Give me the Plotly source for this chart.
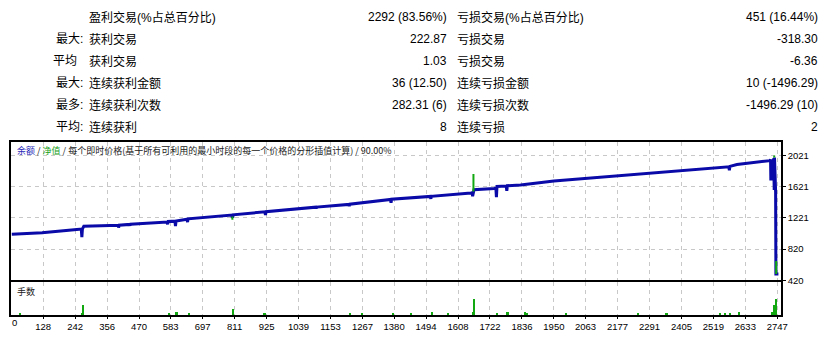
import plotly.graph_objects as go

# ---------------- data ----------------
row_prefix = ["", "最大:", "平均", "最大:", "最多:", "平均:"]
left_labels = ["盈利交易(%占总百分比)", "获利交易", "获利交易", "连续获利金额", "连续获利次数", "连续获利"]
left_values = ["2292 (83.56%)", "222.87", "1.03", "36 (12.50)", "282.31 (6)", "8"]
right_labels = ["亏损交易(%占总百分比)", "亏损交易", "亏损交易", "连续亏损金额", "连续亏损次数", "连续亏损"]
right_values = ["451 (16.44%)", "-318.30", "-6.36", "10 (-1496.29)", "-1496.29 (10)", "2"]

balance_x = [16, 124, 248, 264, 266, 268, 273, 396, 397, 399, 436, 438, 440, 570, 572, 574,
             598, 600, 602, 641, 643, 645, 801, 803, 805, 919, 921, 923, 1100, 1102, 1104,
             1218, 1220, 1222, 1367, 1369, 1371, 1476, 1509, 1511, 1513, 1654, 1658, 1660,
             1662, 1665, 1737, 1743, 1745, 1747, 1780, 1782, 1784, 1831, 1950, 2187, 2425,
             2574, 2576, 2578, 2603, 2721, 2723, 2724, 2726, 2728, 2730, 2732, 2734, 2736,
             2737, 2739, 2741, 2742, 2751]
balance_y = [1011, 1031, 1073, 1078, 973, 1080, 1115, 1127, 1098, 1127, 1138, 1125, 1140, 1168, 1140, 1177,
             1180, 1118, 1182, 1205, 1168, 1210, 1258, 1223, 1262, 1300, 1260, 1302, 1360, 1345, 1361,
             1395, 1376, 1398, 1460, 1418, 1462, 1492, 1498, 1468, 1500, 1542, 1545, 1501,
             1560, 1584, 1600, 1605, 1489, 1626, 1632, 1572, 1636, 1646, 1697, 1763, 1834,
             1880, 1834, 1885, 1909, 1959, 1975, 1704, 1975, 1704, 1975, 1704, 1990, 1580,
             2000, 1580, 1560, 500, 500]

equity_x = [803, 803, None, 1663, 1663, None, 2736, 2736, None, 2743, 2743]
equity_y = [1240, 1198, None, 1563, 1788, None, 2000, 2025, None, 666, 500]

lots_x = [46, 266, 269, 272, 577, 602, 605, 648, 807, 917, 921, 1223, 1267, 1375, 1440,
          1517, 1571, 1660, 1664, 1748, 1782, 1786, 1847, 1853, 1993, 2252, 2351, 2355,
          2541, 2559, 2579, 2612, 2730, 2734, 2741, 2744]
lots_y = [0.01, 0.01, 0.05, 0.01, 0.01, 0.015, 0.015, 0.01, 0.03, 0.01, 0.01, 0.01, 0.01, 0.01, 0.01,
          0.015, 0.01, 0.015, 0.08, 0.01, 0.015, 0.015, 0.015, 0.01, 0.01, 0.01, 0.01, 0.01,
          0.01, 0.01, 0.01, 0.015, 0.015, 0.05, 0.08, 0.03]

x_tick_vals = [128, 242, 356, 470, 583, 697, 811, 925, 1039, 1153, 1267, 1380, 1494, 1608,
               1722, 1836, 1950, 2063, 2177, 2291, 2405, 2519, 2633, 2747]
x_tick_text = [str(v) for v in x_tick_vals]
first_tick_text = "0"
y_tick_vals = [420, 820, 1221, 1621, 2021]
y_tick_text = ["420", "820", "1221", "1621", "2021"]

chart_title = ('<span style="color:#2828B8">余额</span> / '
               '<span style="color:#18A018">净值</span> / '
               '每个即时价格(基于所有可利用的最小时段的每一个价格的分形插值计算) / 90.00%')
lots_title = "手数"

# ---------------- layout geometry ----------------
W, H = 837, 341
L, R, T, B = 9, 56, 142, 20
PW, PH = W - L - R, H - T - B

def fx(px):
    return (px - L) / PW

def fy(py):
    return (H - B - py) / PH

X_RANGE = [13.2, 2760.2]
TABLE_FONT = dict(family="Liberation Sans, Noto Sans CJK SC", size=12, color="#000000")
TICK_FONT = dict(family="Liberation Sans, DejaVu Sans", size=9.5, color="#000000")
SMALL_FONT = dict(family="Noto Sans CJK SC, Liberation Sans", size=9, color="#202020")
GRID = dict(showgrid=True, gridcolor="#C8C8C8", gridwidth=1, griddash="4px,4px")

fig = go.Figure()
fig.add_trace(go.Scatter(x=balance_x, y=balance_y, mode="lines",
                         line=dict(color="#0A0AA8", width=3), xaxis="x", yaxis="y",
                         showlegend=False, hoverinfo="skip"))
fig.add_trace(go.Scatter(x=equity_x, y=equity_y, mode="lines",
                         line=dict(color="#12A812", width=2), xaxis="x", yaxis="y",
                         showlegend=False, hoverinfo="skip", connectgaps=False))
fig.add_trace(go.Bar(x=lots_x, y=lots_y, width=4, marker=dict(color="#12A812", line=dict(width=0)),
                     xaxis="x2", yaxis="y2", showlegend=False, hoverinfo="skip"))

annotations = []
for i in range(len(left_labels)):
    py = 12.7 + 22.8 * i
    if row_prefix[i]:
        annotations.append(dict(text=row_prefix[i], x=fx(83.5 if row_prefix[i].endswith(":") else 77.5),
                                y=fy(py), xanchor="right", yanchor="middle"))
    annotations.append(dict(text=left_labels[i], x=fx(85), y=fy(py), xanchor="left", yanchor="middle"))
    annotations.append(dict(text=left_values[i], x=fx(448), y=fy(py), xanchor="right", yanchor="middle"))
    annotations.append(dict(text=right_labels[i], x=fx(454), y=fy(py), xanchor="left", yanchor="middle"))
    annotations.append(dict(text=right_values[i], x=fx(820), y=fy(py), xanchor="right", yanchor="middle"))
for a in annotations:
    a.update(xref="paper", yref="paper", showarrow=False, font=TABLE_FONT)

annotations.append(dict(text=chart_title, x=fx(13), y=fy(151), xref="paper", yref="paper",
                        xanchor="left", yanchor="middle", showarrow=False, font=SMALL_FONT))
annotations.append(dict(text=lots_title, x=fx(13), y=fy(296.5), xref="paper", yref="paper",
                        xanchor="left", yanchor="middle", showarrow=False, font=SMALL_FONT))
annotations.append(dict(text=first_tick_text, x=fx(12.3), y=fy(328.5), xref="paper", yref="paper",
                        xanchor="center", yanchor="middle", showarrow=False, font=TICK_FONT))

axis_line = dict(showline=True, mirror=True, linecolor="#000000", linewidth=1.5, zeroline=False)

fig.update_layout(
    width=W, height=H,
    margin=dict(l=L, r=R, t=T, b=B, pad=0),
    paper_bgcolor="#FFFFFF", plot_bgcolor="#FFFFFF",
    bargap=0,
    annotations=annotations,
    xaxis=dict(domain=[0, 1], anchor="y", range=X_RANGE, tickvals=x_tick_vals,
               showticklabels=False, ticks="", **GRID, **axis_line),
    yaxis=dict(domain=[fy(285), 1], anchor="x", side="right", range=[420, 2199],
               tickvals=y_tick_vals, ticktext=y_tick_text, ticks="outside", ticklen=3,
               tickcolor="#000000", tickfont=TICK_FONT, **GRID, **axis_line),
    xaxis2=dict(domain=[0, 1], anchor="y2", matches="x", range=X_RANGE, tickvals=x_tick_vals,
                ticktext=x_tick_text, ticks="outside", ticklen=2, tickcolor="#000000",
                tickfont=TICK_FONT, **GRID, **axis_line),
    yaxis2=dict(domain=[0, fy(287.3)], anchor="x2", side="right", range=[0, 0.165],
                showticklabels=False, showgrid=False, ticks="", **axis_line),
)

fig.write_html("out.html")
